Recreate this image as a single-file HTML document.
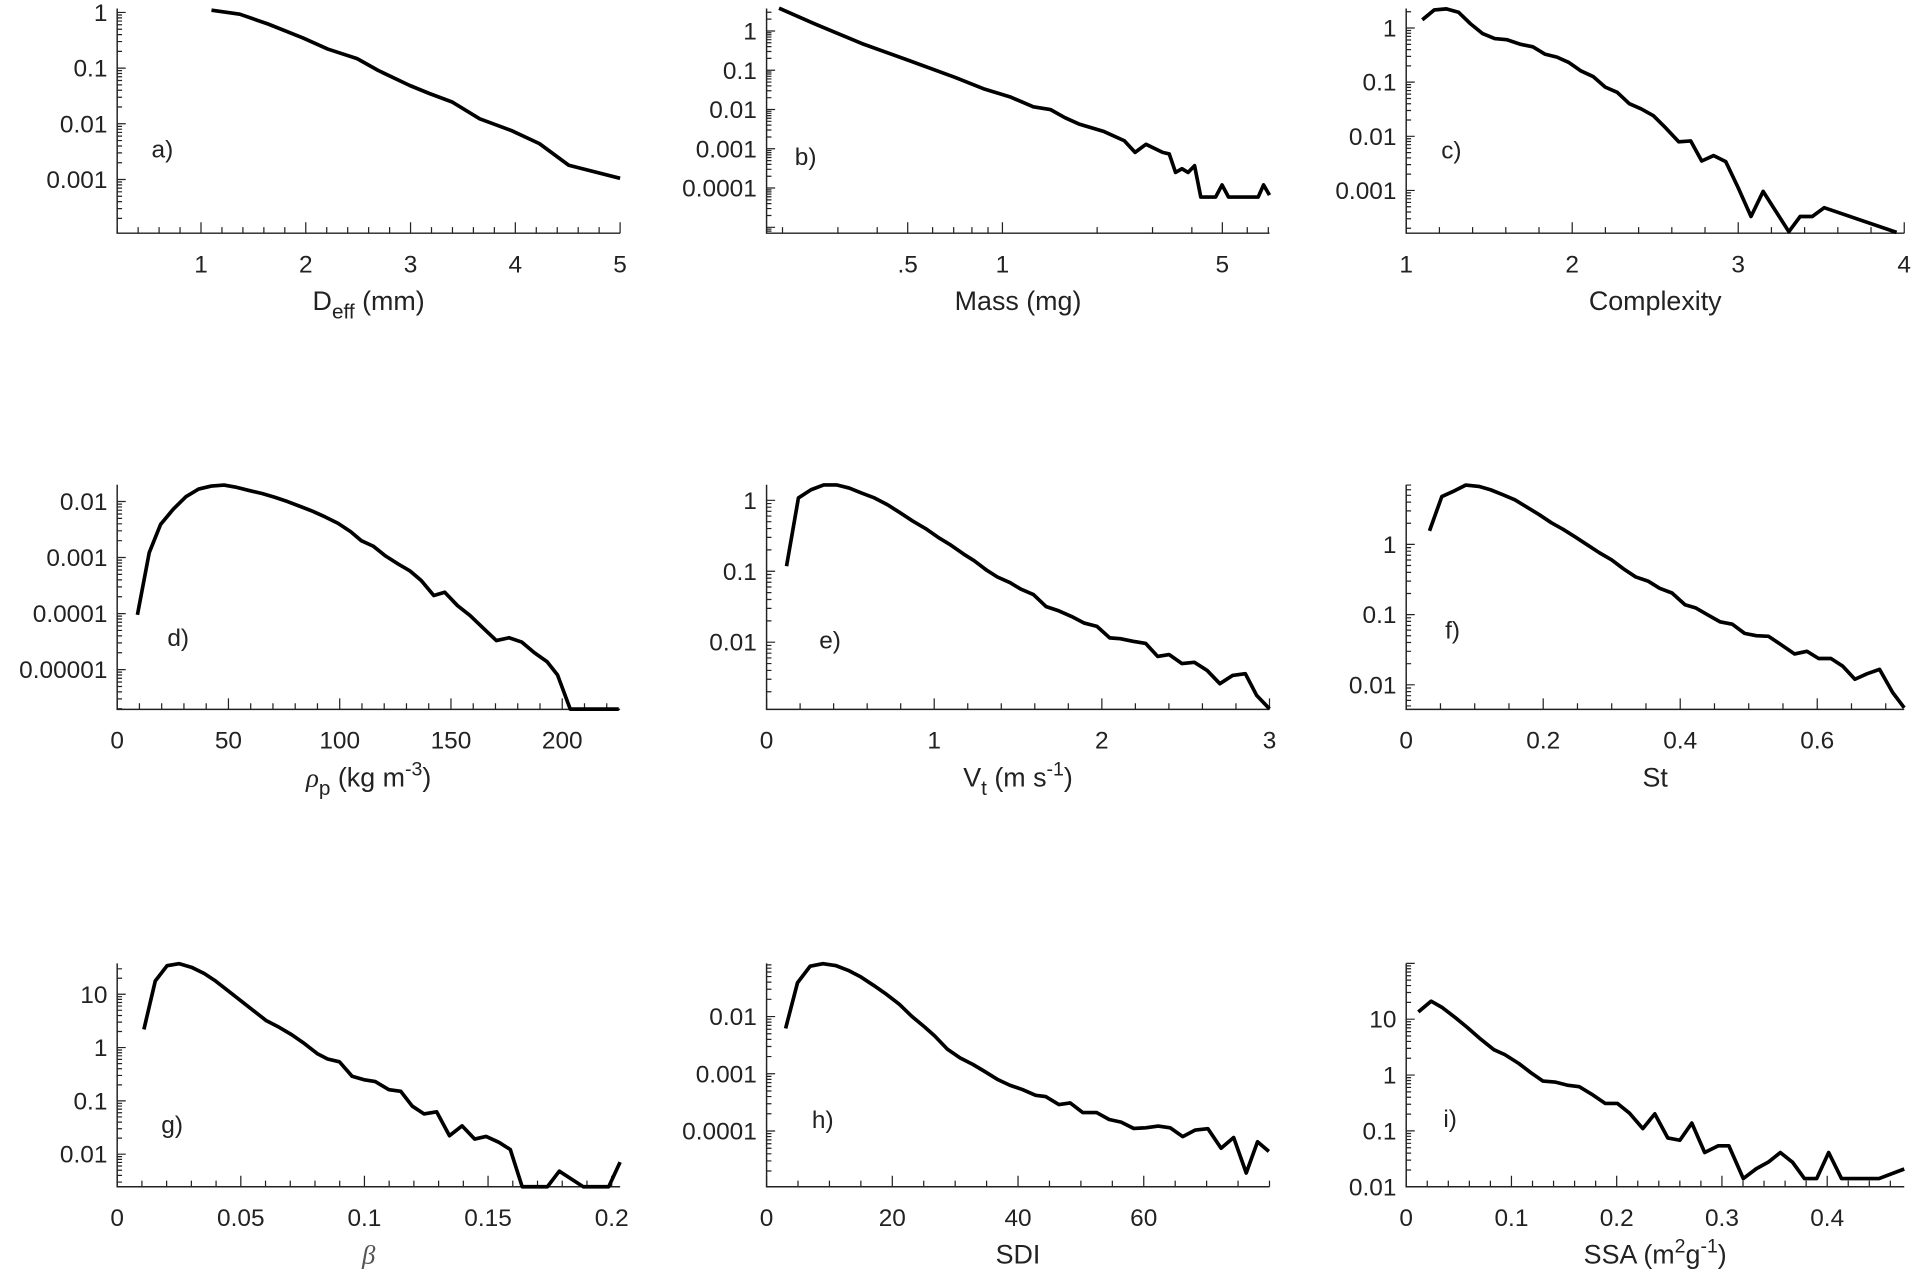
<!DOCTYPE html>
<html><head><meta charset="utf-8"><style>
html,body{margin:0;padding:0;background:#fff;}
svg{display:block;}
text{font-family:"Liberation Sans",Arial,sans-serif;fill:#222;}
</style></head><body>
<svg id="fig" width="1914" height="1282" viewBox="0 0 1568 1050" preserveAspectRatio="none" xmlns="http://www.w3.org/2000/svg"></svg>
<script>
// ---- data ----
const aX=[1.1,1.37,1.64,1.97,2.21,2.49,2.69,2.99,3.18,3.40,3.66,3.96,4.23,4.51,5.0];
const aY=[1.1,0.93,0.62,0.35,0.22,0.148,0.091,0.049,0.035,0.0245,0.0123,0.0076,0.0044,0.0018,0.00105];
const bX=[0.195,0.254,0.357,0.502,0.706,0.878,1.057,1.254,1.42,1.58,1.76,2.09,2.44,2.64,2.86,3.23,3.39,3.55,3.72,3.89,4.08,4.27,4.76,4.99,5.23,6.50,6.76,7.06];
const bY=[3.8,1.5,0.48,0.18,0.066,0.033,0.021,0.0117,0.01,0.0062,0.0042,0.0028,0.0016,0.00081,0.0013,0.00081,0.00074,0.00025,0.00031,0.00025,0.00037,0.000059,0.000059,0.00012,0.000059,0.000059,0.00012,0.000066];
const cX=[1.097,1.169,1.242,1.315,1.387,1.46,1.533,1.605,1.69,1.763,1.835,1.908,1.981,2.053,2.126,2.199,2.271,2.344,2.416,2.489,2.562,2.642,2.714,2.78,2.852,2.925,2.998,3.077,3.15,3.305,3.373,3.446,3.518,3.954];
const cY=[1.42,2.16,2.26,1.96,1.2,0.79,0.64,0.61,0.50,0.45,0.33,0.29,0.23,0.161,0.127,0.081,0.065,0.040,0.032,0.024,0.0144,0.0079,0.0082,0.0035,0.0044,0.0034,0.00115,0.00033,0.00096,0.000173,0.00033,0.00033,0.00048,0.000168];
const dX=[9.1,14.4,19.5,25.2,30.9,36.6,42.3,48.0,53.7,59.4,65.1,70.8,76.5,82.2,87.9,93.5,99.2,104.9,109.7,115.0,120.7,126.4,131.5,136.6,142.3,147.2,152.9,158.6,164.7,170.4,176.1,181.8,187.5,193.2,197.9,203.6,225.4];
const dY=[9.5e-5,1.22e-3,3.9e-3,7.3e-3,0.0122,0.0167,0.0189,0.0197,0.0179,0.0157,0.0139,0.0119,0.0100,0.0082,0.0067,0.0053,0.0041,0.0029,0.0020,0.0016,0.00106,0.00076,0.00058,0.00039,0.00021,0.00024,0.000139,0.000092,0.000054,0.000033,0.000037,0.000031,0.00002,0.0000138,0.000008,0.00000197,0.00000197];
const eX=[0.119,0.190,0.265,0.341,0.417,0.493,0.569,0.644,0.720,0.796,0.872,0.948,1.024,1.099,1.175,1.238,1.314,1.377,1.453,1.516,1.592,1.668,1.744,1.820,1.895,1.971,2.047,2.110,2.186,2.262,2.333,2.401,2.477,2.552,2.628,2.704,2.780,2.856,2.924,3.0];
const eY=[0.118,1.08,1.41,1.65,1.65,1.49,1.26,1.08,0.87,0.67,0.51,0.40,0.30,0.234,0.175,0.141,0.103,0.083,0.069,0.056,0.047,0.0317,0.0276,0.023,0.0186,0.0167,0.0115,0.0112,0.0103,0.0096,0.0063,0.0067,0.005,0.0052,0.0040,0.0026,0.0034,0.0036,0.00177,0.00115];
const fX=[0.034,0.052,0.0705,0.087,0.106,0.123,0.141,0.159,0.176,0.194,0.212,0.229,0.247,0.264,0.282,0.300,0.317,0.335,0.353,0.370,0.388,0.407,0.423,0.441,0.458,0.476,0.494,0.511,0.529,0.546,0.567,0.585,0.602,0.620,0.637,0.655,0.673,0.691,0.710,0.727];
const fY=[1.56,4.8,5.8,7.0,6.7,6.0,5.1,4.3,3.4,2.66,2.03,1.64,1.27,0.99,0.76,0.60,0.45,0.344,0.30,0.237,0.203,0.138,0.124,0.098,0.079,0.073,0.054,0.050,0.049,0.038,0.0275,0.030,0.0237,0.0237,0.0185,0.012,0.0144,0.0166,0.0078,0.0047];
const gX=[0.0108,0.0154,0.0202,0.0250,0.0301,0.0352,0.0398,0.0450,0.0501,0.0552,0.0603,0.0655,0.0706,0.0757,0.0809,0.0851,0.0899,0.0950,0.0997,0.1044,0.1099,0.1147,0.1193,0.1241,0.1292,0.1344,0.1395,0.1446,0.1492,0.1544,0.1590,0.1638,0.1740,0.1788,0.1885,0.1988,0.2034];
const gY=[2.19,17.7,34.4,37.5,32,24.5,17.7,11.5,7.5,4.9,3.2,2.4,1.74,1.19,0.77,0.61,0.54,0.29,0.25,0.23,0.162,0.151,0.080,0.057,0.0625,0.0222,0.034,0.0192,0.0215,0.0167,0.0122,0.00245,0.00245,0.0048,0.00245,0.00245,0.0071];
const hX=[3.03,4.92,6.94,8.96,10.98,13.0,15.02,17.04,19.06,21.08,23.1,25.12,26.73,28.75,30.77,32.8,34.8,36.8,38.7,40.7,42.8,44.4,46.5,48.3,50.3,52.5,54.5,56.4,58.4,60.3,62.3,64.2,66.2,68.2,70.2,72.3,74.3,76.3,78.1,79.9];
const hY=[0.0062,0.039,0.076,0.084,0.078,0.064,0.049,0.035,0.0245,0.0165,0.0101,0.0066,0.0046,0.0027,0.0019,0.00146,0.00108,0.00079,0.00063,0.00053,0.00042,0.0004,0.00029,0.00031,0.00021,0.00021,0.000159,0.000143,0.000111,0.000114,0.000122,0.000114,0.00008,0.000104,0.00011,0.00005,0.000077,0.0000185,0.000065,0.000044];
const iX=[0.0115,0.0237,0.0344,0.0466,0.0581,0.0707,0.0833,0.0937,0.107,0.1185,0.130,0.1414,0.153,0.1644,0.1758,0.1892,0.2007,0.2122,0.2248,0.2362,0.2485,0.260,0.2714,0.2836,0.2963,0.3066,0.3203,0.3326,0.344,0.3555,0.367,0.3784,0.390,0.4014,0.4136,0.4492,0.4732];
const iY=[13.5,21,16.1,10.7,7.1,4.4,2.84,2.32,1.61,1.1,0.78,0.75,0.66,0.62,0.46,0.31,0.31,0.208,0.11,0.202,0.075,0.068,0.138,0.041,0.054,0.054,0.014,0.021,0.0276,0.041,0.0276,0.014,0.014,0.041,0.014,0.014,0.0208];

const aYTicks=["1","0.1","0.01","0.001"];
const bYTicks=["1","0.1","0.01","0.001","0.0001"];
const cYTicks=["1","0.1","0.01","0.001"];
const dYTicks=["0.01","0.001","0.0001","0.00001"];
const eYTicks=["1","0.1","0.01"];
const fYTicks=["1","0.1","0.01"];
const gYTicks=["10","1","0.1","0.01"];
const hYTicks=["0.01","0.001","0.0001"];
const iYTicks=["10","1","0.1","0.01"];
const aXTicks=["1","2","3","4","5"];
const bXTicks=[".5","1","5"];
const cXTicks=["1","2","3","4"];
const dXTicks=["0","50","100","150","200"];
const eXTicks=["0","1","2","3"];
const fXTicks=["0","0.2","0.4","0.6"];
const gXTicks=["0","0.05","0.1","0.15","0.2"];
const hXTicks=["0","20","40","60"];
const iXTicks=["0","0.1","0.2","0.3","0.4"];

const NS="http://www.w3.org/2000/svg";
const svg=document.getElementById('fig');
function mk(tag,attrs,parent){const e=document.createElementNS(NS,tag);for(const k in attrs)e.setAttribute(k,attrs[k]);(parent||svg).appendChild(e);return e;}

const cols=[[96,508],[628,1040],[1152,1560]];
const rows=[[7,191],[397,581],[789,972]];

const panels=[
 {id:'a',c:0,r:0,x:aX,y:aY,xl:[0.2,5],xlog:false,yl:[-3.965,0.07],yt:aYTicks,xt:aXTicks,minor:0.2,lab:[133,122]},
 {id:'b',c:1,r:0,x:bX,y:bY,xl:[0.178,7.06],xlog:true,yl:[-5.15,0.571],yt:bYTicks,xt:bXTicks,lab:[660,128]},
 {id:'c',c:2,r:0,x:cX,y:cY,xl:[1,4],xlog:false,yl:[-3.79,0.36],yt:cYTicks,xt:cXTicks,minor:0.2,lab:[1189,123]},
 {id:'d',c:0,r:1,x:dX,y:dY,xl:[0,226],xlog:false,yl:[-5.71,-1.70],yt:dYTicks,xt:dXTicks,minor:10,lab:[146,522]},
 {id:'e',c:1,r:1,x:eX,y:eY,xl:[0,3],xlog:false,yl:[-2.947,0.22],yt:eYTicks,xt:eXTicks,minor:0.2,lab:[680,524]},
 {id:'f',c:2,r:1,x:fX,y:fY,xl:[0,0.727],xlog:false,yl:[-2.35,0.85],yt:fYTicks,xt:fXTicks,minor:0.05,lab:[1190,516]},
 {id:'g',c:0,r:2,x:gX,y:gY,xl:[0,0.2034],xlog:false,yl:[-2.611,1.58],yt:gYTicks,xt:gXTicks,minor:0.01,lab:[141,921]},
 {id:'h',c:1,r:2,x:hX,y:hY,xl:[0,80],xlog:false,yl:[-4.974,-1.07],yt:hYTicks,xt:hXTicks,minor:5,lab:[674,917]},
 {id:'i',c:2,r:2,x:iX,y:iY,xl:[0,0.4732],xlog:false,yl:[-2.0,2.0],yt:iYTicks,xt:iXTicks,minor:0.02,lab:[1188,916]}
];
const titles={
 a:'D<tspan dy="7" font-size="17">eff</tspan><tspan dy="-7"> (mm)</tspan>',
 b:'Mass (mg)',
 c:'Complexity',
 d:'<tspan font-family="Liberation Serif" font-style="italic">ρ</tspan><tspan dy="7" font-size="17">p</tspan><tspan dy="-7"> (kg m</tspan><tspan dy="-9" font-size="16">-3</tspan><tspan dy="9">)</tspan>',
 e:'V<tspan dy="7" font-size="17">t</tspan><tspan dy="-7"> (m s</tspan><tspan dy="-9" font-size="16">-1</tspan><tspan dy="9">)</tspan>',
 f:'St',
 g:'<tspan font-family="Liberation Serif" font-style="italic" fill="#555">β</tspan>',
 h:'SDI',
 i:'SSA (m<tspan dy="-9" font-size="16">2</tspan><tspan dy="9">g</tspan><tspan dy="-9" font-size="16">-1</tspan><tspan dy="9">)</tspan>'
};

panels.forEach(p=>{
  const [L,R]=cols[p.c],[T,B]=rows[p.r];
  const g=mk('g',{});
  
  
  const sx=v=>p.xlog? L+(Math.log10(v)-Math.log10(p.xl[0]))/(Math.log10(p.xl[1])-Math.log10(p.xl[0]))*(R-L)
                    : L+(v-p.xl[0])/(p.xl[1]-p.xl[0])*(R-L);
  const sy=v=>B-(Math.log10(v)-p.yl[0])/(p.yl[1]-p.yl[0])*(B-T);
  const ax=mk('path',{d:`M${L},${T} L${L},${B} L${R},${B}`,fill:'none',stroke:'#222','stroke-width':1.2},g);
  
  
  let td='';
  for(let d=Math.floor(p.yl[0]);d<=Math.ceil(p.yl[1]);d++){
    for(let m=1;m<=9;m++){
      const lv=d+Math.log10(m);
      if(lv<p.yl[0]-1e-6||lv>p.yl[1]+1e-6)continue;
      const y=B-(lv-p.yl[0])/(p.yl[1]-p.yl[0])*(B-T);
      td+=`M${L},${y.toFixed(2)}h${m===1?7:4}`;
    }
  }
  if(p.xlog){
    for(let d=-1;d<=0;d++)for(let m=1;m<=9;m++){
      const v=m*Math.pow(10,d);
      if(v<p.xl[0]||v>p.xl[1])continue;
      const x=sx(v);const major=(v===0.5||v===1||v===5);
      td+=`M${x.toFixed(2)},${B}v${major?-9:-5}`;
    }
  } else {
    const n=Math.round((p.xl[1]-p.xl[0])/p.minor);
    for(let k=0;k<=n+1;k++){
      const v=Math.round((p.xl[0]+k*p.minor)/p.minor)*p.minor;
      if(v<p.xl[0]-1e-9||v>p.xl[1]+1e-9)continue;
      const isMaj=p.xt.some(t=>Math.abs(parseFloat(t)-v)<1e-9);
      td+=`M${sx(v).toFixed(2)},${B}v${isMaj?-9:-5}`;
    }
  }
  const tk=mk('path',{d:td,fill:'none',stroke:'#222','stroke-width':1},g);
  
  
  p.yt.forEach(s=>{
    const t=mk('text',{x:L-8,y:sy(parseFloat(s))+7,'text-anchor':'end','font-size':20},g);
    
    
    t.textContent=s;
  });
  p.xt.forEach(s=>{
    const v=parseFloat(s);
    const t=mk('text',{x:sx(v),y:B+32,'text-anchor':'middle','font-size':20},g);
    
    
    t.textContent=s;
  });
  const tt=mk('text',{x:(L+R)/2,y:B+63,'text-anchor':'middle','font-size':22},g);
  
  
  tt.innerHTML=titles[p.id];
  const pl=mk('text',{x:p.lab[0],y:p.lab[1]+7,'text-anchor':'middle','font-size':20,fill:'#000'},g);
  
  
  pl.textContent=p.id+')';
  const pts=p.x.map((v,k)=>sx(v).toFixed(2)+','+sy(p.y[k]).toFixed(2)).join(' ');
  const ln=mk('polyline',{points:pts,fill:'none',stroke:'#000','stroke-width':3,'stroke-linejoin':'round'},g);
  
  
});
</script>
</body></html>
